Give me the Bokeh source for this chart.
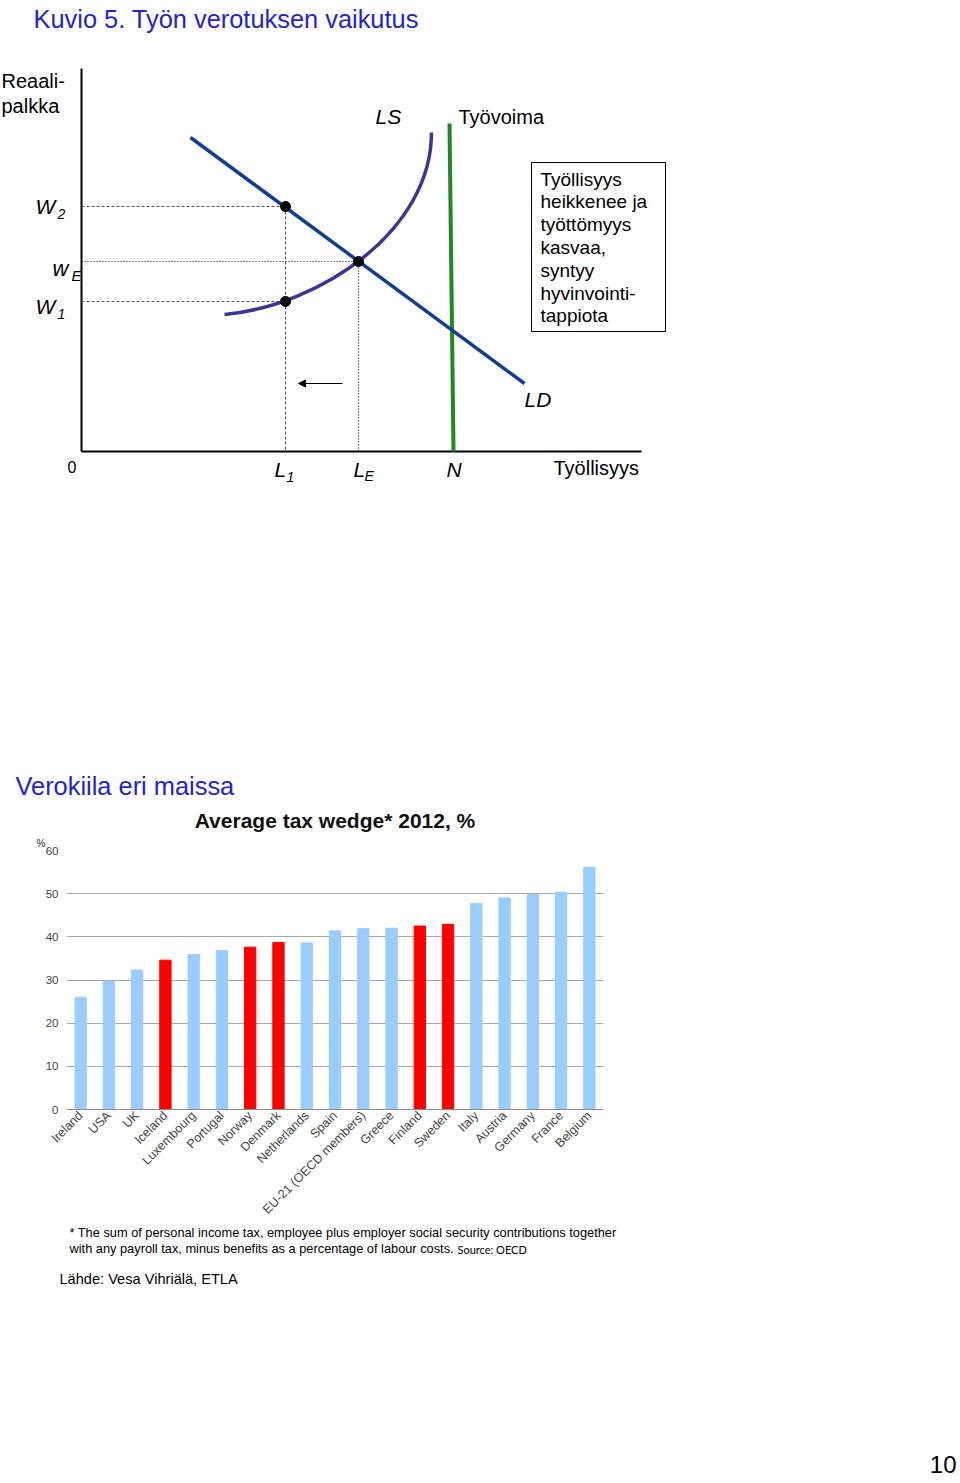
import math
from bokeh.plotting import figure
from bokeh.models import Range1d, FactorRange, FixedTicker, Arrow, NormalHead, Title
from bokeh.layouts import column
from bokeh.core.properties import value
from bokeh.embed import file_html
from bokeh.resources import INLINE

FONT = "Liberation Sans"
BLUE_TITLE = "#2323d2"
W = 960

# ---------------- Diagram (schematic units, origin at the axis corner) ----------------
axis_x_end = 560          # employment axis length
axis_y_end = 383          # wage axis length
ld_x = [109, 443]         # labour demand line
ld_y = [314, 68]
ls_curve = dict(x0=143, y0=137, cx0=239, cy0=146, cx1=350, cy1=221, x1=350, y1=319)  # labour supply
lf_x = [368, 372]         # labour force (Työvoima)
lf_y = [328, 0]
L1, LE = 204, 277
W2, WE, W1 = 245, 190, 150
arrow_start = (261, 68)
arrow_end = (217, 68)
box_edges = (450, 584, 120, 289)
box_lines = ["Työllisyys", "heikkenee ja", "työttömyys", "kasvaa,", "syntyy",
             "hyvinvointi-", "tappiota"]

# ---------------- Bar chart data ----------------
countries = ["Ireland", "USA", "UK", "Iceland", "Luxembourg", "Portugal", "Norway",
             "Denmark", "Netherlands", "Spain", "EU-21 (OECD members)", "Greece",
             "Finland", "Sweden", "Italy", "Austria", "Germany", "France", "Belgium"]
tax_wedge = [26.0, 29.7, 32.3, 34.6, 35.9, 36.8, 37.6, 38.7, 38.6, 41.4, 41.9, 42.0,
             42.5, 42.9, 47.7, 49.0, 49.8, 50.3, 56.1]
highlight = ["Iceland", "Norway", "Denmark", "Finland", "Sweden"]
y_ticks = [0, 10, 20, 30, 40, 50, 60]

# ======================= Figure A: diagram =======================
HA = 800
pa = figure(width=W, height=HA, x_range=Range1d(-81, W - 81), y_range=Range1d(451 - HA, 451),
            output_backend="svg", toolbar_location=None, x_axis_type=None, y_axis_type=None,
            min_border=0, outline_line_color=None)
pa.grid.visible = False

def txt(p, x, y, s, size="20px", style="normal", align="left", color="black", font=FONT):
    p.text(x=[x], y=[y], text=[s], text_font=value(font), text_font_size=size,
           text_font_style=style, text_align=align, text_baseline="middle", text_color=color)

# axes
pa.segment(x0=[0, 0], y0=[0, 0], x1=[0, axis_x_end], y1=[axis_y_end, 0], line_color="black", line_width=2)
# guide lines
pa.segment(x0=[0, 0, L1], y0=[W2, W1, W2], x1=[L1, L1, L1], y1=[W2, W1, 0],
           line_color="#555555", line_width=1, line_dash="3 2")
pa.segment(x0=[0, LE], y0=[WE, WE], x1=[LE, LE], y1=[WE, 0],
           line_color="#111111", line_width=1.2, line_dash="1 2")
# curves
pa.line(x=lf_x, y=lf_y, line_color="#1f8a1f", line_width=4)
pa.line(x=ld_x, y=ld_y, line_color="#0f3f8e", line_width=3.5)
pa.bezier(line_color="#3b3596", line_width=3.5, **{k: [v] for k, v in ls_curve.items()})
pa.scatter(x=[L1, L1, LE], y=[W2, W1, WE], size=10, color="black")
pa.add_layout(Arrow(end=NormalHead(size=7, line_width=1, fill_color="black"),
                    x_start=arrow_start[0], y_start=arrow_start[1],
                    x_end=arrow_end[0], y_end=arrow_end[1], line_width=1))
# text box
pa.quad(left=[box_edges[0]], right=[box_edges[1]], bottom=[box_edges[2]], top=[box_edges[3]],
        fill_color="white", line_color="black", line_width=1)
for i, s in enumerate(box_lines):
    txt(pa, box_edges[0] + 9, 272.5 - i * 22.8, s, size="19px")

# labels
txt(pa, -48, 433, "Kuvio 5. Työn verotuksen vaikutus", size="25.4px", color=BLUE_TITLE)
txt(pa, -80, 371, "Reaali-")
txt(pa, -80, 346, "palkka")
txt(pa, -14, -15, "0", size="16px")
txt(pa, -46, W2, "W", size="21px", style="italic")
txt(pa, -24, W2 - 7, "2", size="14px", style="italic")
txt(pa, -29, WE - 7, "w", size="22px", style="italic")
txt(pa, -10, WE - 14, "E", size="15px", style="italic")
txt(pa, -46, W1 - 5, "W", size="21px", style="italic")
txt(pa, -24, W1 - 12, "1", size="14px", style="italic")
txt(pa, 294, 335, "LS", size="21px", style="italic")
txt(pa, 377, 335, "Työvoima")
txt(pa, 443, 52, "LD", size="21px", style="italic")
txt(pa, L1 - 11, -18, "L", size="21px", style="italic")
txt(pa, L1 + 1, -25, "1", size="14px", style="italic")
txt(pa, LE - 5, -18, "L", size="21px", style="italic")
txt(pa, LE + 6, -24, "E", size="14px", style="italic")
txt(pa, 365, -18, "N", size="21px", style="italic")
txt(pa, 472, -16, "Työllisyys")
txt(pa, -66, -334, "Verokiila eri maissa", size="25.4px", color=BLUE_TITLE)

# ======================= Figure B: bar chart =======================
TOP_B, BOT_B, FRAME_H = 50, 113, 261
HB = TOP_B + FRAME_H + BOT_B
colors = ["#ff0000" if c in highlight else "#99ccff" for c in countries]
pb = figure(width=W, height=HB, x_range=FactorRange(*countries), y_range=Range1d(0, 60),
            output_backend="svg", toolbar_location=None,
            min_border_left=66, min_border_right=W - 603, min_border_top=TOP_B,
            min_border_bottom=BOT_B, outline_line_color=None)
pb.vbar(x=countries, top=tax_wedge, width=0.4, color=colors)
pb.add_layout(Title(text="%", align="left", offset=-30, standoff=4, text_font=FONT,
                    text_font_size="10px", text_font_style="normal", text_color="#222222"), "above")
pb.title.text = "Average tax wedge* 2012, %"
pb.title.align = "center"
pb.title.text_font = FONT
pb.title.text_font_size = "21px"
pb.title.text_font_style = "bold"
pb.title.text_color = "#111111"
pb.title.standoff = 3
pb.xgrid.visible = False
pb.ygrid.ticker = FixedTicker(ticks=y_ticks)
pb.ygrid.grid_line_color = "#a8a8a8"
pb.yaxis.ticker = FixedTicker(ticks=y_ticks)
pb.yaxis.axis_line_color = None
pb.yaxis.major_tick_line_color = None
pb.yaxis.major_tick_out = 0
pb.yaxis.minor_tick_line_color = None
pb.yaxis.major_label_text_font = FONT
pb.yaxis.major_label_text_font_size = "11.5px"
pb.yaxis.major_label_standoff = 8
pb.xaxis.axis_line_color = "#8c8c8c"
pb.xaxis.major_tick_out = 0
pb.xaxis.major_tick_in = 0
pb.xaxis.major_label_orientation = math.pi / 4
pb.xaxis.major_label_text_font = FONT
pb.xaxis.major_label_text_font_size = "12.5px"
pb.xaxis.major_label_standoff = 4

# ======================= Figure C: notes =======================
y0c = HA + HB
HC = 1480 - y0c
pc = figure(width=W, height=HC, x_range=Range1d(0, W), y_range=Range1d(y0c + HC, y0c),
            output_backend="svg", toolbar_location=None, x_axis_type=None, y_axis_type=None,
            min_border=0, outline_line_color=None)
pc.grid.visible = False
txt(pc, 69, 1232, "* The sum of personal income tax, employee plus employer social security contributions together",
    size="12.8px")
txt(pc, 69, 1248, "with any payroll tax, minus benefits as a percentage of labour costs.", size="12.8px")
txt(pc, 457, 1249, "Source: OECD", size="11px", font="Lato")
txt(pc, 59, 1278, "Lähde: Vesa Vihriälä, ETLA", size="14.6px")
txt(pc, 956, 1464, "10", size="24px", align="right")

for p in (pa, pb, pc):
    p.frame_align = False

layout = column(pa, pb, pc)
open("out.html", "w").write(file_html(layout, INLINE))
